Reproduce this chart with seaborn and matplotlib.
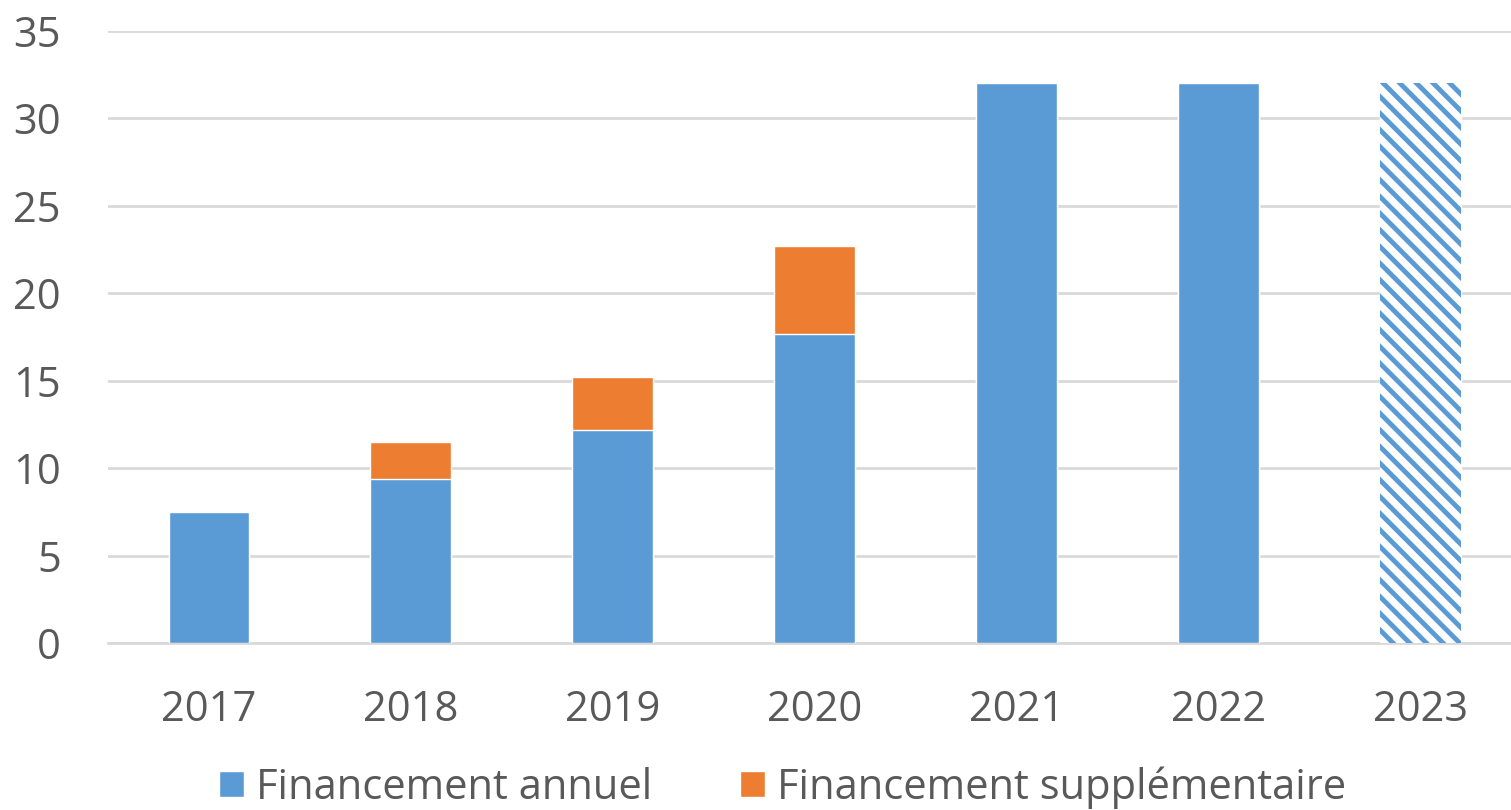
import matplotlib
matplotlib.use("Agg")
import matplotlib.pyplot as plt
from matplotlib.patches import Patch
import seaborn as sns
import pandas as pd

years = ["2017", "2018", "2019", "2020", "2021", "2022", "2023"]
annuel = [7.5, 9.4, 12.2, 17.7, 32, 32, 32]
supplementaire = [0, 2.1, 3.0, 5.0, 0, 0, 0]
yticks = [0, 5, 10, 15, 20, 25, 30, 35]

BLUE = "#5B9BD5"
ORANGE = "#ED7D31"
TXT = "#595959"

def main():
    sns.set_theme(style="white")
    plt.rcParams["font.family"] = ["Open Sans", "DejaVu Sans"]
    plt.rcParams["hatch.linewidth"] = 3.5

    df = pd.DataFrame({"annee": years, "annuel": annuel,
                       "total": [a + s for a, s in zip(annuel, supplementaire)]})

    fig = plt.figure(figsize=(15.11, 8.1), dpi=100)
    ax = fig.add_axes([108 / 1511, 167 / 810, 1 - 108 / 1511, 612 / 810])

    # totals in orange, annual funding drawn over them
    sns.barplot(data=df, x="annee", y="total", color=ORANGE, width=0.4,
                saturation=1, ax=ax, zorder=2)
    sns.barplot(data=df, x="annee", y="annuel", color=BLUE, width=0.4,
                saturation=1, ax=ax, zorder=3)

    # 2023 is a forecast: hatched bar
    last = ax.patches[-1]
    last.set_facecolor("white")
    last.set_edgecolor(BLUE)
    last.set_linewidth(0)
    last.set_hatch("\\\\")

    ax.set_ylim(0, 35)
    ax.set_xlim(-0.5, 6.45)
    ax.set_yticks(yticks)
    ax.yaxis.grid(True, color="#D9D9D9", linewidth=2, zorder=0)
    ax.set_axisbelow(True)
    for s in ["top", "right", "left"]:
        ax.spines[s].set_visible(False)
    ax.spines["bottom"].set_color("#D9D9D9")
    ax.spines["bottom"].set_linewidth(2)
    ax.set_xlabel("")
    ax.set_ylabel("")
    ax.tick_params(axis="both", length=0, labelsize=30, labelcolor=TXT)
    ax.tick_params(axis="x", pad=33)
    ax.tick_params(axis="y", pad=34)

    handles = [Patch(facecolor=BLUE, label="Financement annuel"),
               Patch(facecolor=ORANGE, label="Financement supplémentaire")]
    fig.legend(handles=handles, loc="lower center", bbox_to_anchor=(0.518, -0.045),
               ncol=2, frameon=False, fontsize=30, labelcolor=TXT,
               handlelength=0.6, handleheight=0.6, handletextpad=0.3,
               columnspacing=2.1)

    fig.savefig("out.png", dpi=100)

if __name__ == "__main__":
    main()
